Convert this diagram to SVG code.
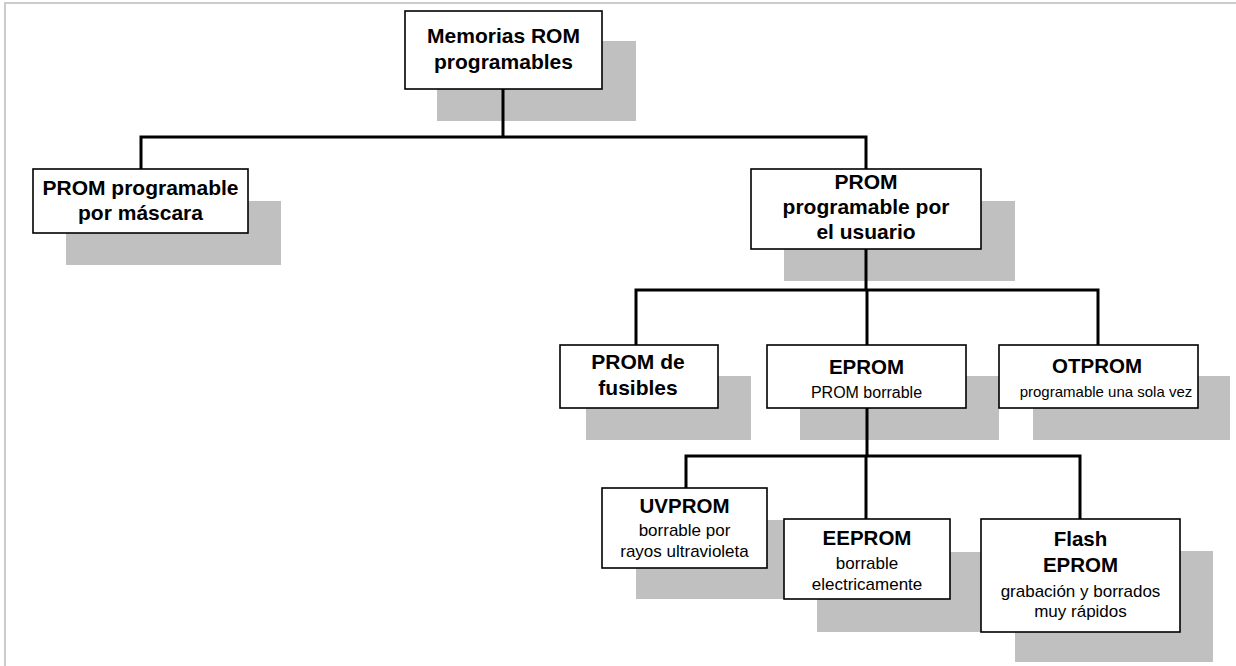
<svg xmlns="http://www.w3.org/2000/svg" width="1236" height="666" viewBox="0 0 1236 666">
  <style>
    .shadow { fill: #c0c0c0; stroke: none; }
    .box { fill: #ffffff; stroke: #000000; stroke-width: 1.6; }
    .title { font-family: "Liberation Sans", Arial, sans-serif; font-weight: bold; fill: #000; text-anchor: middle; }
    .sub { font-family: "Liberation Sans", Arial, sans-serif; fill: #000; text-anchor: middle; }
    .wire { fill: none; stroke: #000000; stroke-width: 3; stroke-linejoin: miter; }
    .frame { fill: none; stroke: #cccccc; stroke-width: 2; }
  </style>

  <rect x="0" y="0" width="1236" height="666" fill="#ffffff"/>
  <!-- page frame (top and left edges) -->
  <path class="frame" d="M5,666 V3 H1236"/>

  <g id="node-root">
    <rect class="shadow" x="437" y="41" width="199" height="80"/>
    <rect class="box" x="405" y="11" width="197" height="78"/>
    <text class="title" x="503.5" y="43" font-size="21">Memorias ROM</text>
    <text class="title" x="503.5" y="69" font-size="21">programables</text>
  </g>

  <g id="node-mascara">
    <rect class="shadow" x="66" y="201" width="215" height="64"/>
    <rect class="box" x="33" y="169" width="215" height="64"/>
    <text class="title" x="140.5" y="195" font-size="21">PROM programable</text>
    <text class="title" x="140.5" y="220" font-size="21">por máscara</text>
  </g>

  <g id="node-usuario">
    <rect class="shadow" x="784" y="201" width="231" height="80"/>
    <rect class="box" x="751" y="169" width="230" height="80"/>
    <text class="title" x="866" y="189" font-size="21">PROM</text>
    <text class="title" x="866" y="214" font-size="21">programable por</text>
    <text class="title" x="866" y="239" font-size="21">el usuario</text>
  </g>

  <g id="node-fusibles">
    <rect class="shadow" x="586" y="376" width="165" height="64"/>
    <rect class="box" x="560" y="345" width="158" height="63"/>
    <text class="title" x="638" y="369" font-size="21">PROM de</text>
    <text class="title" x="638" y="395" font-size="21">fusibles</text>
  </g>

  <g id="node-eprom">
    <rect class="shadow" x="800" y="376" width="199" height="64"/>
    <rect class="box" x="767" y="345" width="199" height="63"/>
    <text class="title" x="866.5" y="374" font-size="20.5">EPROM</text>
    <text class="sub" x="866.5" y="398" font-size="16">PROM borrable</text>
  </g>

  <g id="node-otprom">
    <rect class="shadow" x="1033" y="376" width="197" height="64"/>
    <rect class="box" x="999" y="345" width="199" height="63"/>
    <text class="title" x="1097" y="373" font-size="20.5">OTPROM</text>
    <text class="sub" x="1106" y="397" font-size="15">programable una sola vez</text>
  </g>

  <g id="node-uvprom">
    <rect class="shadow" x="636" y="520" width="165" height="79"/>
    <rect class="box" x="602" y="488" width="165" height="80"/>
    <text class="title" x="684.5" y="513" font-size="20.5">UVPROM</text>
    <text class="sub" x="684.5" y="536" font-size="17">borrable por</text>
    <text class="sub" x="684.5" y="557" font-size="17">rayos ultravioleta</text>
  </g>

  <g id="node-eeprom">
    <rect class="shadow" x="817" y="552" width="166" height="80"/>
    <rect class="box" x="784" y="519" width="166" height="80"/>
    <text class="title" x="867" y="545" font-size="20.5">EEPROM</text>
    <text class="sub" x="867" y="569" font-size="17">borrable</text>
    <text class="sub" x="867" y="590" font-size="17">electricamente</text>
  </g>

  <g id="node-flash">
    <rect class="shadow" x="1015" y="551" width="198" height="111"/>
    <rect class="box" x="981" y="519" width="199" height="113"/>
    <text class="title" x="1080.5" y="546" font-size="20.5">Flash</text>
    <text class="title" x="1080.5" y="572" font-size="20.5">EPROM</text>
    <text class="sub" x="1080.5" y="597" font-size="17">grabación y borrados</text>
    <text class="sub" x="1080.5" y="617" font-size="17">muy rápidos</text>
  </g>

  <g id="connectors">
    <!-- root to first level -->
    <path class="wire" d="M503,89 V137"/>
    <path class="wire" d="M141,169 V137 H866 V169"/>
    <!-- user-programmable PROM to its three kinds -->
    <path class="wire" d="M866,249 V290"/>
    <path class="wire" d="M636,345 V290 H1098 V345"/>
    <path class="wire" d="M867,290 V345"/>
    <!-- EPROM to erasable variants -->
    <path class="wire" d="M867,408 V456"/>
    <path class="wire" d="M686,488 V456 H1080 V519"/>
    <path class="wire" d="M866,456 V519"/>
  </g>
</svg>
